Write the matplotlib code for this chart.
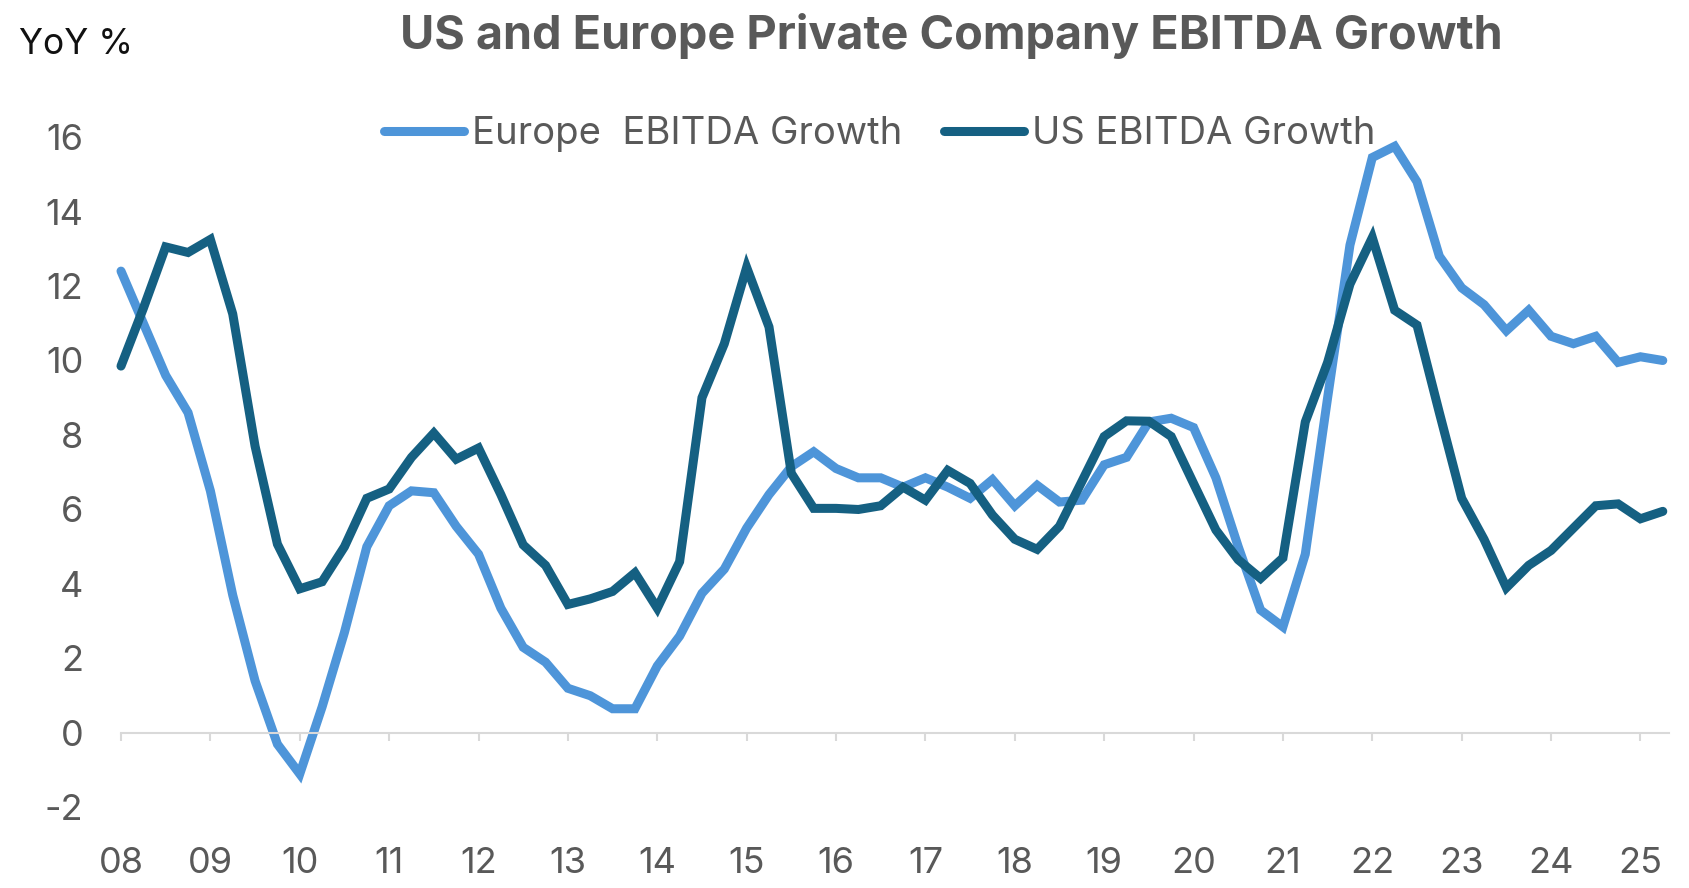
import matplotlib
matplotlib.use("Agg")
import matplotlib.pyplot as plt
import numpy as np

# quarterly YoY growth, 2008 Q1 .. 2025 Q2
europe = [12.4, 11.0, 9.6, 8.6, 6.5, 3.7, 1.4, -0.3, -1.1, 0.7,
          2.7, 5.0, 6.1, 6.5, 6.45, 5.55, 4.8, 3.35, 2.3, 1.9,
          1.2, 1.0, 0.65, 0.65, 1.8, 2.6, 3.75, 4.4, 5.5, 6.4,
          7.15, 7.55, 7.1, 6.85, 6.85, 6.6, 6.85, 6.6, 6.3, 6.8,
          6.1, 6.65, 6.2, 6.25, 7.2, 7.4, 8.35, 8.45, 8.2, 6.85,
          5.0, 3.3, 2.85, 4.8, 9.0, 13.1, 15.45, 15.75, 14.8, 12.8,
          11.95, 11.5, 10.8, 11.35, 10.65, 10.45, 10.65, 9.95, 10.1, 10.0]
us = [9.85, 11.4, 13.05, 12.9, 13.25, 11.25, 7.7, 5.07, 3.87, 4.06,
      5.0, 6.3, 6.55, 7.4, 8.05, 7.35, 7.65, 6.4, 5.05, 4.5,
      3.45, 3.6, 3.8, 4.3, 3.35, 4.6, 9.0, 10.45, 12.5, 10.9,
      6.97, 6.03, 6.03, 6.0, 6.1, 6.6, 6.25, 7.05, 6.7, 5.85,
      5.2, 4.93, 5.55, 6.75, 7.96, 8.38, 8.37, 7.96, 6.7, 5.45,
      4.65, 4.15, 4.7, 8.35, 9.95, 12.05, 13.3, 11.35, 10.95, 8.6,
      6.3, 5.2, 3.9, 4.5, 4.9, 5.5, 6.1, 6.15, 5.75, 5.95]
years = list(range(2008, 2026))
year_labels = ["%02d" % (y % 100) for y in years]
y_ticks = list(range(-2, 17, 2))

x = 2008 + np.arange(len(europe)) * 0.25

plt.rcParams['font.family'] = ['Inter', 'DejaVu Sans']
plt.rcParams['axes.unicode_minus'] = False
gray = '#595959'
light = '#4E95D9'
dark = '#156082'

fig = plt.figure(figsize=(16.9, 8.88), dpi=100)
ax = fig.add_axes([0.0716, 0.0907, 0.916, 0.755])

ax.plot(x, europe, color=light, lw=6.5, solid_joinstyle='miter', solid_capstyle='round',
        label='Europe  EBITDA Growth', clip_on=False)
ax.plot(x, us, color=dark, lw=6.5, solid_joinstyle='miter', solid_capstyle='round',
        label='US EBITDA Growth', clip_on=False)

ax.set_xlim(2008, 2025.32)
ax.set_ylim(-2, 16)
ax.set_xticks(years)
ax.set_xticklabels(year_labels)
ax.set_yticks(y_ticks)

for s in ['top', 'right', 'left']:
    ax.spines[s].set_visible(False)
ax.spines['bottom'].set_position(('data', 0))
ax.spines['bottom'].set_color('#d9d9d9')
ax.spines['bottom'].set_linewidth(1.5)

ax.tick_params(axis='x', direction='out', length=6, width=1.5, color='#d9d9d9',
               labelsize=26, labelcolor=gray, pad=76)
ax.tick_params(axis='y', length=0, labelsize=26, labelcolor=gray, pad=27)

fig.legend(loc='center', bbox_to_anchor=(0.5204, 0.849), ncol=2, frameon=False,
           fontsize=27.5, labelcolor=gray, handlelength=2.1, handletextpad=0.2,
           columnspacing=1.1)

fig.text(0.563, 0.960, 'US and Europe Private Company EBITDA Growth', ha='center', va='center',
         fontsize=33.7, fontweight='bold', color=gray)
fig.text(0.011, 0.950, 'YoY %', ha='left', va='center', fontsize=25.5, color='#111111')

fig.savefig('out.png', dpi=100)
